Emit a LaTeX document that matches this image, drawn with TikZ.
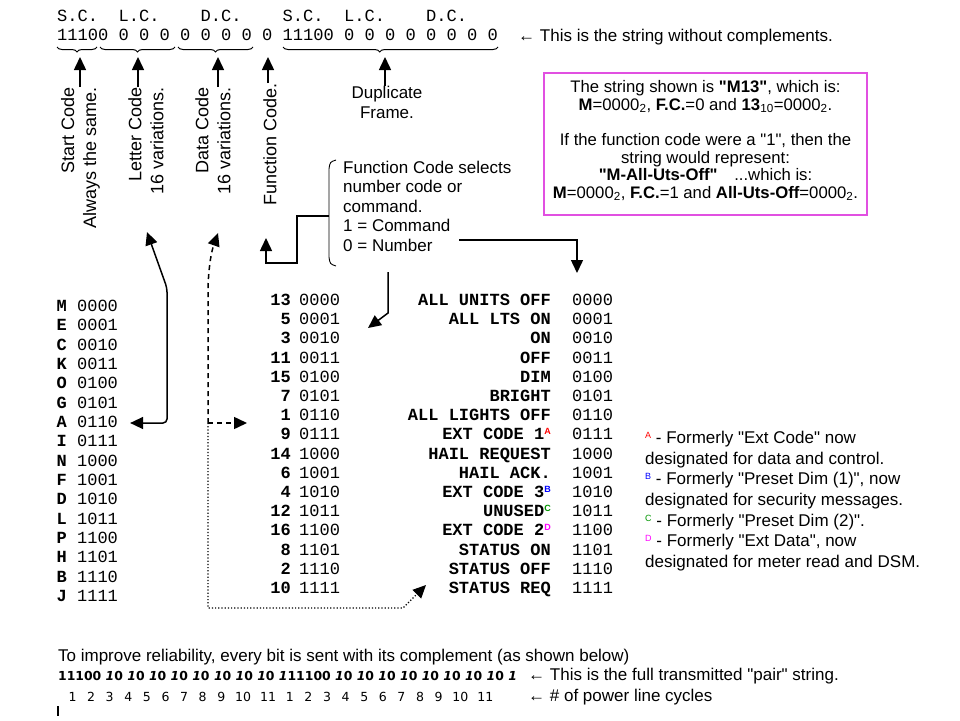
\documentclass[tikz,border=0pt]{standalone}
\usepackage{fontspec}
\setmainfont{Liberation Sans}[Ligatures=TeXOff]
\setmonofont{Liberation Mono}[Ligatures=TeXOff]
\newfontfamily\dejavu{DejaVu Sans}[Ligatures=TeXOff]
\usetikzlibrary{arrows.meta,decorations.pathreplacing}
\definecolor{mag}{RGB}{225,80,225}
\definecolor{supr}{RGB}{255,0,0}
\definecolor{supb}{RGB}{0,0,255}
\definecolor{supg}{RGB}{0,150,0}
\definecolor{supm}{RGB}{255,0,255}
\newcommand{\sups}[2]{\raisebox{0.55ex}{\rmfamily\fontsize{9}{9}\selectfont\color{#1}#2}}
\newcommand{\bpair}{\hspace{4.4pt}\textbf{\textit{1}0}}
\newcommand{\cyc}[1]{\makebox[18.6pt][c]{#1}}
\newcommand{\cycc}[1]{\makebox[25pt][c]{#1}}
\tikzset{
  mono/.style={font=\fontsize{17.08}{19}\ttfamily, inner sep=0pt},
  tbl/.style={font=\fontsize{17}{19}\ttfamily, inner sep=0pt},
  txt/.style={font=\fontsize{17}{19.5}\selectfont, inner sep=0pt},
  rot/.style={font=\fontsize{18}{22}\selectfont, inner sep=0pt, rotate=90, align=right},
  boxtxt/.style={font=\fontsize{16.7}{17.5}\selectfont, inner sep=0pt, align=center},
  arr/.style={-{Triangle[width=12pt,length=13pt]}, line width=1.5pt},
  arrb/.style={{Triangle[width=12pt,length=13pt]}-{Triangle[width=12pt,length=13pt]}, line width=1.5pt},
  br/.style={decorate, decoration={brace, amplitude=5pt, mirror}, line width=1pt},
}
\begin{document}
\begin{tikzpicture}[x=1pt,y=-1pt]
\fill[white] (0,0) rectangle (960,720);
\useasboundingbox (0,0) rectangle (960,720);

% ---- header
\node[mono, anchor=base west] (hdr) at (57,21) {S.C.\ \ L.C.\ \ \ \ D.C.\ \ \ \ S.C.\ \ L.C.\ \ \ \ D.C.};
\node[mono, anchor=base west] (row) at (57,40) {11100 0 0 0 0 0 0 0 0 11100 0 0 0 0 0 0 0 0};
\node[txt, anchor=base west] (nocomp) at (518,41) {← This is the string without complements.};

% braces
\draw[br] (57,47) -- (97,47);
\draw[br] (100,47) -- (175,47);
\draw[br] (178,47) -- (253,47);
\draw[br, decoration={aspect=0.45}] (283,47) -- (498,47);

\coordinate (scb) at (80,57);
\coordinate (lcb) at (138,57);
\coordinate (dcb) at (218,57);
\coordinate (fcb) at (268,57);
\coordinate (dupb) at (385,57);

% rotated labels
\node[rot, anchor=east] (sclab) at (80.5,87) {Start Code\\Always the same.};
\node[rot, anchor=east] (lclab) at (146,87) {Letter Code\\16 variations.};
\node[rot, anchor=east] (dclab) at (213,87) {Data Code\\16 variations.};
\node[rot, anchor=east] (fclab) at (270,83) {Function Code.};
\node[txt, align=center, anchor=north] (dup) at (387,86) {Duplicate\\Frame.};

\draw[arr] (sclab.east -| scb) -- (scb);
\draw[arr] (lclab.east -| lcb) -- (lcb);
\draw[arr] (dclab.east -| dcb) -- (dcb);
\draw[arr] (fclab.east -| fcb) -- (fcb);
\draw[arr] (dup.north -| dupb) -- (dupb);

% ---- magenta box
\node[draw=mag, line width=1.3pt, minimum width=323pt, minimum height=142pt, inner sep=0pt] (box) at (705.5,144) {};
\node[boxtxt, anchor=north] (boxt) at (705.5,80.5) {The string shown is \textbf{"M13"}, which is:\\
\textbf{M}=0000\textsubscript{2}, \textbf{F.C.}=0 and \textbf{13}\textsubscript{10}=0000\textsubscript{2}.\\[18pt]
If the function code were a "1", then the\\
string would represent:\\
\textbf{"M-All-Uts-Off"}\quad ...which is:\\
\textbf{M}=0000\textsubscript{2}, \textbf{F.C.}=1 and \textbf{All-Uts-Off}=0000\textsubscript{2}.};

% ---- function code explanation
\node[txt, align=left, anchor=north west] (fctext) at (343,160.5) {Function Code selects\\number code or\\command.\\1 = Command\\0 = Number};
\draw[line width=0.9pt] (336,160) .. controls (330,162) .. (329,169) -- (329,257) .. controls (330,264) .. (336,266);
\coordinate (brmid) at (329,216);
\coordinate (fc2) at (266,238);
\draw[arr] (brmid) -- (297,216) -- (297,263) -- (266,263) -- (fc2);
\coordinate (numst) at (459,240);
\coordinate (cmdtip) at (577,273);
\draw[arr] (numst) -- (577,240) -- (cmdtip);
\coordinate (brbot) at (388,272);
\coordinate (numtip) at (368,328);
\draw[arr] (brbot) -- (388,313) -- (numtip);

% ---- left letter column
\foreach \L/\C [count=\i from 0] in {M/0000,E/0001,C/0010,K/0011,O/0100,G/0101,A/0110,I/0111,N/1000,F/1001,D/1010,L/1011,P/1100,H/1101,B/1110,J/1111}{
  \node[tbl, anchor=base west] (let\i) at (56.5,{311.5+19.33*\i}) {\textbf{\L} \C};
}

% ---- middle table
\foreach \N/\C [count=\i from 0] in {13/0000,5/0001,3/0010,11/0011,15/0100,7/0101,1/0110,9/0111,14/1000,6/1001,4/1010,12/1011,16/1100,8/1101,2/1110,10/1111}{
  \node[tbl, anchor=base east] (num\i) at (291,{305.5+19.2*\i}) {\textbf{\N}};
  \node[tbl, anchor=base west] (nc\i) at (299,{305.5+19.2*\i}) {\C};
  \node[tbl, anchor=base west] (cc\i) at (572,{305.5+19.2*\i}) {\C};
}
\foreach \K [count=\i from 0] in {ALL UNITS OFF,ALL LTS ON,ON,OFF,DIM,BRIGHT,ALL LIGHTS OFF,{EXT CODE 1\sups{supr}{A}},HAIL REQUEST,HAIL ACK.,{EXT CODE 3\sups{supb}{B}},{UNUSED\sups{supg}{C}},{EXT CODE 2\sups{supm}{D}},STATUS ON,STATUS OFF,STATUS REQ}{
  \node[tbl, anchor=base east] (cmd\i) at (551,{305.5+19.2*\i}) {\textbf{\K}};
}

% ---- connectors left
\coordinate (lctip) at (147,232);
\draw[arrb, rounded corners=4pt] (lctip) -- (167,288) -- (167,423) -- ([xshift=12pt]let6.east |- 167,423);
\coordinate (dctip) at (218,233);
\coordinate (djoin) at (208,423);
\coordinate (dtip) at (247,423);
\draw[arr, dash pattern=on 5pt off 4pt] (djoin) -- (208,287) .. controls (209,262) and (212,250) .. (dctip);
\draw[arr, dash pattern=on 5pt off 4pt] (djoin) -- (dtip);
\coordinate (sreq) at (426,585);
\draw[arr, line width=1.2pt, dotted] (djoin) -- (208,608) -- (403,608) -- (sreq);

% ---- notes
\node[txt, anchor=base west] (n1) at (645,443) {\sups{supr}{A} - Formerly "Ext Code" now};
\node[txt, anchor=base west] (n2) at (645,464) {designated for data and control.};
\node[txt, anchor=base west] (n3) at (645,484) {\sups{supb}{B} - Formerly "Preset Dim (1)", now};
\node[txt, anchor=base west] (n4) at (645,505) {designated for security messages.};
\node[txt, anchor=base west] (n5) at (645,526) {\sups{supg}{C} - Formerly "Preset Dim (2)".};
\node[txt, anchor=base west] (n6) at (645,546) {\sups{supm}{D} - Formerly "Ext Data", now};
\node[txt, anchor=base west] (n7) at (645,567) {designated for meter read and DSM.};

% ---- bottom
\node[txt, anchor=base west] (imp) at (58,661) {To improve reliability, every bit is sent with its complement (as shown below)};
\node[inner sep=0pt, anchor=base west, font=\fontsize{12.4}{14}\dejavu] (bits) at (58,680) {\textbf{11100}\bpair\bpair\bpair\bpair\bpair\bpair\bpair\bpair\hspace{4.4pt}\textbf{\textit{1}11100}\bpair\bpair\bpair\bpair\bpair\bpair\bpair\bpair\hspace{4.4pt}\textbf{\textit{1}}};
\node[txt, anchor=base west] (pair) at (528,680) {← This is the full transmitted "pair" string.};
\node[inner sep=0pt, anchor=base west, font=\fontsize{12.5}{14}\dejavu] (cycles) at (63,701) {\cyc{1}\cyc{2}\cyc{3}\cyc{4}\cyc{5}\cyc{6}\cyc{7}\cyc{8}\cyc{9}\cycc{10}\cycc{11}\cyc{1}\cyc{2}\cyc{3}\cyc{4}\cyc{5}\cyc{6}\cyc{7}\cyc{8}\cyc{9}\cycc{10}\cycc{11}};
\node[txt, anchor=base west] (pl) at (528,701) {← \# of power line cycles};
\coordinate (tk1) at (58,706);
\coordinate (tk2) at (58,716);
\draw[line width=1.5pt] (tk1) -- (tk2);
\end{tikzpicture}
\end{document}
